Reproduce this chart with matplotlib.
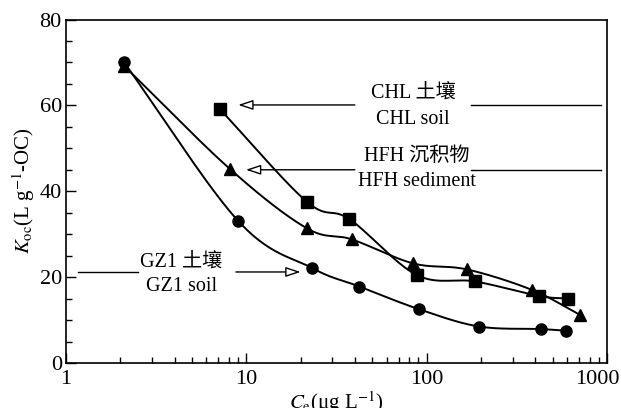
import matplotlib.pyplot as plt
import matplotlib.transforms as mtransforms
import numpy as np

# data
gz1_ce = [2.1, 9.0, 23.2, 42.4, 91, 195, 431, 593]
gz1_koc = [70.0, 33.1, 22.1, 17.8, 12.5, 8.5, 7.9, 7.5]
chl_ce = [7.1, 21.6, 37.3, 88, 185, 422, 611]
chl_koc = [59.2, 37.6, 33.5, 20.5, 19.0, 15.6, 15.0]
hfh_ce = [2.1, 8.1, 21.6, 38.4, 84, 167, 385, 709]
hfh_koc = [69.2, 45.2, 31.4, 28.8, 23.2, 21.8, 17.0, 11.2]

plt.rcParams['font.family'] = ['Liberation Serif', 'Noto Sans CJK SC']
plt.rcParams['mathtext.fontset'] = 'stix'


def smooth(xs, ys, n=30):
    # catmull-rom curve through the points, in log-x space
    lx = np.log10(xs)
    p = np.column_stack([lx, ys])
    p = np.vstack([2 * p[0] - p[1], p, 2 * p[-1] - p[-2]])
    out = []
    t = np.linspace(0, 1, n)[:, None]
    for i in range(1, len(p) - 2):
        p0, p1, p2, p3 = p[i - 1], p[i], p[i + 1], p[i + 2]
        seg = 0.5 * (2 * p1 + (-p0 + p2) * t + (2 * p0 - 5 * p1 + 4 * p2 - p3) * t ** 2
                     + (-p0 + 3 * p1 - 3 * p2 + p3) * t ** 3)
        out.append(seg)
    out = np.vstack(out)
    return 10 ** out[:, 0], out[:, 1]


fig = plt.figure(figsize=(6.21, 4.08), dpi=100)
ax = fig.add_axes([0.1063, 0.1103, 0.8712, 0.8419])

for xs, ys, m in [(gz1_ce, gz1_koc, 'o'), (chl_ce, chl_koc, 's'), (hfh_ce, hfh_koc, '^')]:
    sx, sy = smooth(xs, ys)
    ax.plot(sx, sy, color='black', lw=1.4)
    ax.plot(xs, ys, m, color='black', ms=8, ls='none')

ax.set_xscale('log')
ax.set_xlim(1, 1000)
ax.set_ylim(0, 80)
ax.set_yticks([0, 20, 40, 60, 80])
ax.set_yticks(np.arange(0, 81, 5), minor=True)
ax.set_xticks([1, 10, 100, 1000])
ax.set_xticklabels(['1', '10', '100', '1000'])
ax.tick_params(which='both', direction='in', top=False, right=False, labelsize=16, width=1)
ax.tick_params(which='major', length=7)
ax.tick_params(which='minor', length=4)
ax.tick_params(axis='x', pad=5)
ax.tick_params(axis='y', pad=3)
for s in ax.spines.values():
    s.set_linewidth(1.2)
last = ax.get_xticklabels()[-1]
last.set_transform(last.get_transform() + mtransforms.ScaledTranslation(-0.1, 0, fig.dpi_scale_trans))

ax.set_xlabel(r'$C_{\rm e}$(μg L$^{-1}$)', fontsize=15, labelpad=0)
ax.set_ylabel(r'$K_{\rm oc}$(L g$^{-1}$-OC)', fontsize=15, labelpad=2)

arrow = dict(arrowstyle='-|>,head_length=0.9,head_width=0.3', fc='white', ec='black', lw=1)
fs = 14.5
# CHL
ax.annotate('', xy=(8.7, 60.1), xytext=(41.4, 60.1), arrowprops=arrow)
ax.plot([175, 926], [60.1, 60.1], color='black', lw=1)
ax.text(84, 62.9, 'CHL 土壤', fontsize=fs, ha='center', va='center')
ax.text(84, 56.6, 'CHL soil', fontsize=fs, ha='center', va='center')
# HFH
ax.annotate('', xy=(9.6, 45.0), xytext=(41.4, 45.0), arrowprops=arrow)
ax.plot([175, 926], [45.0, 45.0], color='black', lw=1)
ax.text(88, 48.0, 'HFH 沉积物', fontsize=fs, ha='center', va='center')
ax.text(88, 42.2, 'HFH sediment', fontsize=fs, ha='center', va='center')
# GZ1
ax.plot([1.17, 2.5], [21.2, 21.2], color='black', lw=1)
ax.annotate('', xy=(20.7, 21.2), xytext=(8.45, 21.2), arrowprops=arrow)
ax.text(4.35, 23.5, 'GZ1 土壤', fontsize=fs, ha='center', va='center')
ax.text(4.4, 17.7, 'GZ1 soil', fontsize=fs, ha='center', va='center')

fig.savefig('out.png', dpi=100)
